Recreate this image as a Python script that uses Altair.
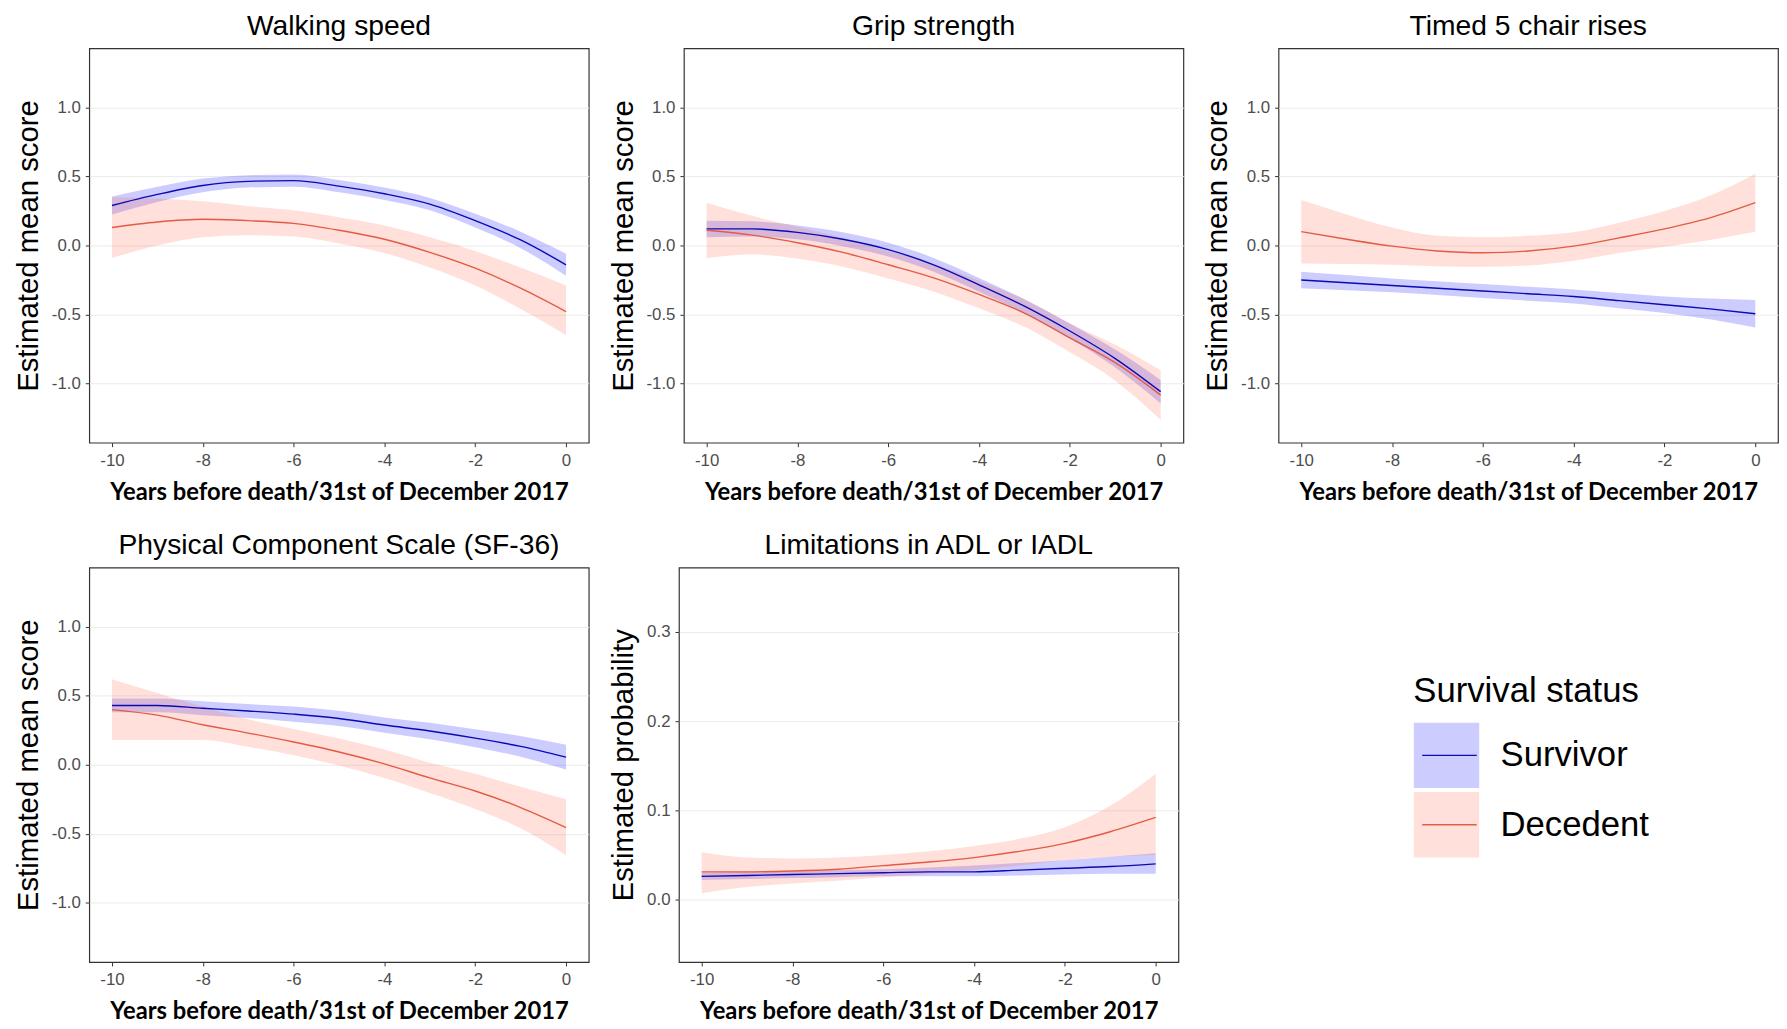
import altair as alt
import pandas as pd

YEARS = [-10, -9, -8, -7, -6, -5, -4, -3, -2, -1, 0]
STATUS = ["Survivor", "Decedent"]
X_TICKS = [-10, -8, -6, -4, -2, 0]
X_TITLE = "Years before death/31st of December 2017"

# Walking speed
WALK_SURV_FIT = [0.29, 0.37, 0.435, 0.465, 0.47, 0.43, 0.375, 0.30, 0.18, 0.04, -0.14]
WALK_SURV_LO = [0.225, 0.315, 0.385, 0.42, 0.425, 0.385, 0.33, 0.255, 0.13, -0.02, -0.22]
WALK_SURV_HI = [0.355, 0.425, 0.485, 0.51, 0.515, 0.475, 0.42, 0.345, 0.23, 0.10, -0.06]
WALK_DEC_FIT = [0.13, 0.17, 0.19, 0.18, 0.16, 0.11, 0.045, -0.05, -0.165, -0.31, -0.48]
WALK_DEC_LO = [-0.09, 0.0, 0.06, 0.075, 0.065, 0.015, -0.055, -0.16, -0.29, -0.46, -0.65]
WALK_DEC_HI = [0.35, 0.34, 0.32, 0.285, 0.255, 0.205, 0.145, 0.06, -0.04, -0.16, -0.29]

# Grip strength
GRIP_SURV_FIT = [0.12, 0.12, 0.095, 0.045, -0.03, -0.14, -0.285, -0.44, -0.62, -0.82, -1.06]
GRIP_SURV_LO = [0.06, 0.065, 0.045, -0.005, -0.08, -0.19, -0.335, -0.49, -0.675, -0.885, -1.145]
GRIP_SURV_HI = [0.18, 0.175, 0.145, 0.095, 0.02, -0.09, -0.235, -0.39, -0.565, -0.755, -0.975]
GRIP_DEC_FIT = [0.11, 0.075, 0.02, -0.05, -0.14, -0.235, -0.355, -0.49, -0.67, -0.85, -1.085]
GRIP_DEC_LO = [-0.09, -0.065, -0.095, -0.155, -0.24, -0.335, -0.455, -0.59, -0.775, -0.98, -1.265]
GRIP_DEC_HI = [0.31, 0.215, 0.135, 0.055, -0.04, -0.135, -0.255, -0.39, -0.565, -0.72, -0.905]

# Timed 5 chair rises
CHAIR_SURV_FIT = [-0.25, -0.27, -0.29, -0.31, -0.33, -0.35, -0.37, -0.40, -0.43, -0.46, -0.495]
CHAIR_SURV_LO = [-0.31, -0.325, -0.34, -0.36, -0.38, -0.40, -0.42, -0.455, -0.49, -0.535, -0.595]
CHAIR_SURV_HI = [-0.19, -0.215, -0.24, -0.26, -0.28, -0.30, -0.32, -0.345, -0.37, -0.385, -0.395]
CHAIR_DEC_FIT = [0.10, 0.045, -0.005, -0.04, -0.053, -0.04, -0.005, 0.055, 0.12, 0.20, 0.31]
CHAIR_DEC_LO = [-0.13, -0.135, -0.14, -0.15, -0.155, -0.145, -0.11, -0.055, -0.01, 0.04, 0.10]
CHAIR_DEC_HI = [0.33, 0.225, 0.13, 0.07, 0.06, 0.07, 0.095, 0.165, 0.25, 0.36, 0.52]

# Physical Component Scale (SF-36)
PCS_SURV_FIT = [0.43, 0.43, 0.41, 0.39, 0.367, 0.336, 0.288, 0.245, 0.193, 0.133, 0.055]
PCS_SURV_LO = [0.38, 0.38, 0.36, 0.34, 0.312, 0.281, 0.233, 0.185, 0.128, 0.058, -0.035]
PCS_SURV_HI = [0.48, 0.48, 0.46, 0.44, 0.422, 0.391, 0.343, 0.305, 0.258, 0.208, 0.145]
PCS_DEC_FIT = [0.40, 0.36, 0.29, 0.23, 0.165, 0.093, 0.007, -0.095, -0.19, -0.31, -0.455]
PCS_DEC_LO = [0.18, 0.18, 0.18, 0.13, 0.07, -0.005, -0.095, -0.205, -0.32, -0.46, -0.655]
PCS_DEC_HI = [0.62, 0.52, 0.42, 0.33, 0.26, 0.19, 0.11, 0.015, -0.065, -0.16, -0.25]

# Limitations in ADL or IADL
ADL_SURV_FIT = [0.026, 0.027, 0.028, 0.029, 0.030, 0.031, 0.031, 0.033, 0.035, 0.037, 0.040]
ADL_SURV_LO = [0.022, 0.023, 0.024, 0.025, 0.026, 0.026, 0.026, 0.027, 0.028, 0.029, 0.029]
ADL_SURV_HI = [0.030, 0.031, 0.032, 0.033, 0.034, 0.036, 0.038, 0.041, 0.044, 0.048, 0.052]
ADL_DEC_FIT = [0.031, 0.031, 0.032, 0.034, 0.038, 0.042, 0.047, 0.054, 0.063, 0.076, 0.092]
ADL_DEC_LO = [0.007, 0.014, 0.018, 0.021, 0.025, 0.029, 0.033, 0.038, 0.044, 0.048, 0.050]
ADL_DEC_HI = [0.053, 0.047, 0.046, 0.047, 0.050, 0.054, 0.060, 0.068, 0.081, 0.105, 0.141]

BAND_COLORS = ["#0000ff", "#ff6347"]
LINE_COLORS = ["#0a0ab4", "#e35b45"]

FONT = "Liberation Sans"
XFONT = "Lato"


def make_df(sfit, slo, shi, dfit, dlo, dhi):
    rows = []
    for status, fit, lo, hi in (("Survivor", sfit, slo, shi), ("Decedent", dfit, dlo, dhi)):
        for yr, f, l, h in zip(YEARS, fit, lo, hi):
            rows.append({"year": yr, "status": status, "fit": f, "lo": l, "hi": h})
    return pd.DataFrame(rows)


def panel(title, df, ytitle, ydomain, yticks):
    xenc = alt.X(
        "year:Q",
        scale=alt.Scale(domain=[-10.5, 0.5], nice=False, zero=False),
        axis=alt.Axis(
            values=X_TICKS,
            title=X_TITLE,
            grid=False,
            labelExpr="replace(format(datum.value, 'd'), '\u2212', '-')",
            titleFont=XFONT,
            titleFontWeight="bold",
            titleFontSize=24,
            titlePadding=12.5,
            labelPadding=6,
        ),
    )
    yscale = alt.Scale(domain=ydomain, nice=False, zero=False)
    yaxis = alt.Axis(
        values=yticks,
        title=ytitle,
        grid=True,
        labelExpr="replace(format(datum.value, '.1f'), '\u2212', '-')",
        titleFont=FONT,
        titleFontWeight="normal",
        titleFontSize=29.6,
        titlePadding=8,
        labelPadding=5,
    )
    band = alt.Chart(df).mark_area(fillOpacity=0.2, interpolate="monotone").encode(
        x=xenc,
        y=alt.Y("lo:Q", scale=yscale, axis=yaxis),
        y2="hi:Q",
        fill=alt.Fill("status:N", scale=alt.Scale(domain=STATUS, range=BAND_COLORS), legend=None),
    )
    line = alt.Chart(df).mark_line(strokeWidth=1.4, interpolate="monotone").encode(
        x=xenc,
        y=alt.Y("fit:Q", scale=yscale, axis=yaxis),
        color=alt.Color("status:N", scale=alt.Scale(domain=STATUS, range=LINE_COLORS), legend=None),
    )
    return alt.layer(band, line).properties(
        width=504,
        height=398,
        title=alt.TitleParams(title, font=FONT, fontSize=28.5, fontWeight="normal", color="black", offset=8, anchor="middle"),
    )


SCORE_DOMAIN = [-1.43, 1.43]
SCORE_TICKS = [-1.0, -0.5, 0.0, 0.5, 1.0]

p1 = panel("Walking speed", make_df(WALK_SURV_FIT, WALK_SURV_LO, WALK_SURV_HI, WALK_DEC_FIT, WALK_DEC_LO, WALK_DEC_HI),
           "Estimated mean score", SCORE_DOMAIN, SCORE_TICKS)
p2 = panel("Grip strength", make_df(GRIP_SURV_FIT, GRIP_SURV_LO, GRIP_SURV_HI, GRIP_DEC_FIT, GRIP_DEC_LO, GRIP_DEC_HI),
           "Estimated mean score", SCORE_DOMAIN, SCORE_TICKS)
p3 = panel("Timed 5 chair rises", make_df(CHAIR_SURV_FIT, CHAIR_SURV_LO, CHAIR_SURV_HI, CHAIR_DEC_FIT, CHAIR_DEC_LO, CHAIR_DEC_HI),
           "Estimated mean score", SCORE_DOMAIN, SCORE_TICKS)
p4 = panel("Physical Component Scale (SF-36)", make_df(PCS_SURV_FIT, PCS_SURV_LO, PCS_SURV_HI, PCS_DEC_FIT, PCS_DEC_LO, PCS_DEC_HI),
           "Estimated mean score", SCORE_DOMAIN, SCORE_TICKS)
p5 = panel("Limitations in ADL or IADL", make_df(ADL_SURV_FIT, ADL_SURV_LO, ADL_SURV_HI, ADL_DEC_FIT, ADL_DEC_LO, ADL_DEC_HI),
           "Estimated probability", [-0.07, 0.372], [0.0, 0.1, 0.2, 0.3])

# Custom legend (Survival status)
LEGEND_TITLE = ["Survival status"]
leg_df = pd.DataFrame({"status": STATUS})
leg_y = alt.Y("status:N", scale=alt.Scale(type="point", domain=STATUS, range=[189.5, 259.5], padding=0), axis=None)
boxes = alt.Chart(leg_df).mark_square(size=66 * 66, fillOpacity=0.2, strokeWidth=0).encode(
    x=alt.value(251.5),
    y=leg_y,
    fill=alt.Fill("status:N", scale=alt.Scale(domain=STATUS, range=BAND_COLORS), legend=None),
)
keys = alt.Chart(leg_df).mark_rule(strokeWidth=1.4).encode(
    x=alt.value(227),
    x2=alt.value(282),
    y=leg_y,
    color=alt.Color("status:N", scale=alt.Scale(domain=STATUS, range=LINE_COLORS), legend=None),
)
labels = alt.Chart(leg_df).mark_text(align="left", baseline="middle", font=FONT, fontSize=35, color="black").encode(
    x=alt.value(306),
    y=leg_y,
    text="status:N",
)
ltitle = alt.Chart(pd.DataFrame({"t": LEGEND_TITLE})).mark_text(
    align="left", baseline="middle", font=FONT, fontSize=35, color="black"
).encode(x=alt.value(218), y=alt.value(124.5), text="t:N")
legend = alt.layer(boxes, keys, labels, ltitle).properties(width=330, height=398, view=alt.ViewConfig(stroke=None))

row1 = alt.hconcat(p1, p2, p3, spacing=18)
row2 = alt.hconcat(p4, p5, legend, spacing=18)
chart = alt.vconcat(row1, row2, spacing=24).properties(
    padding={"left": 5, "top": -2, "right": 0, "bottom": 0}
).configure_view(
    stroke="#333333", strokeWidth=1.2
).configure_axis(
    domain=False,
    ticks=True,
    tickColor="#333333",
    tickSize=4,
    labelColor="#4d4d4d",
    labelFont=FONT,
    labelFontSize=17,
    titleColor="black",
    gridColor="#ebebeb",
    gridWidth=1,
)

chart.save("out.html", embed_options={"renderer": "svg", "actions": False})
